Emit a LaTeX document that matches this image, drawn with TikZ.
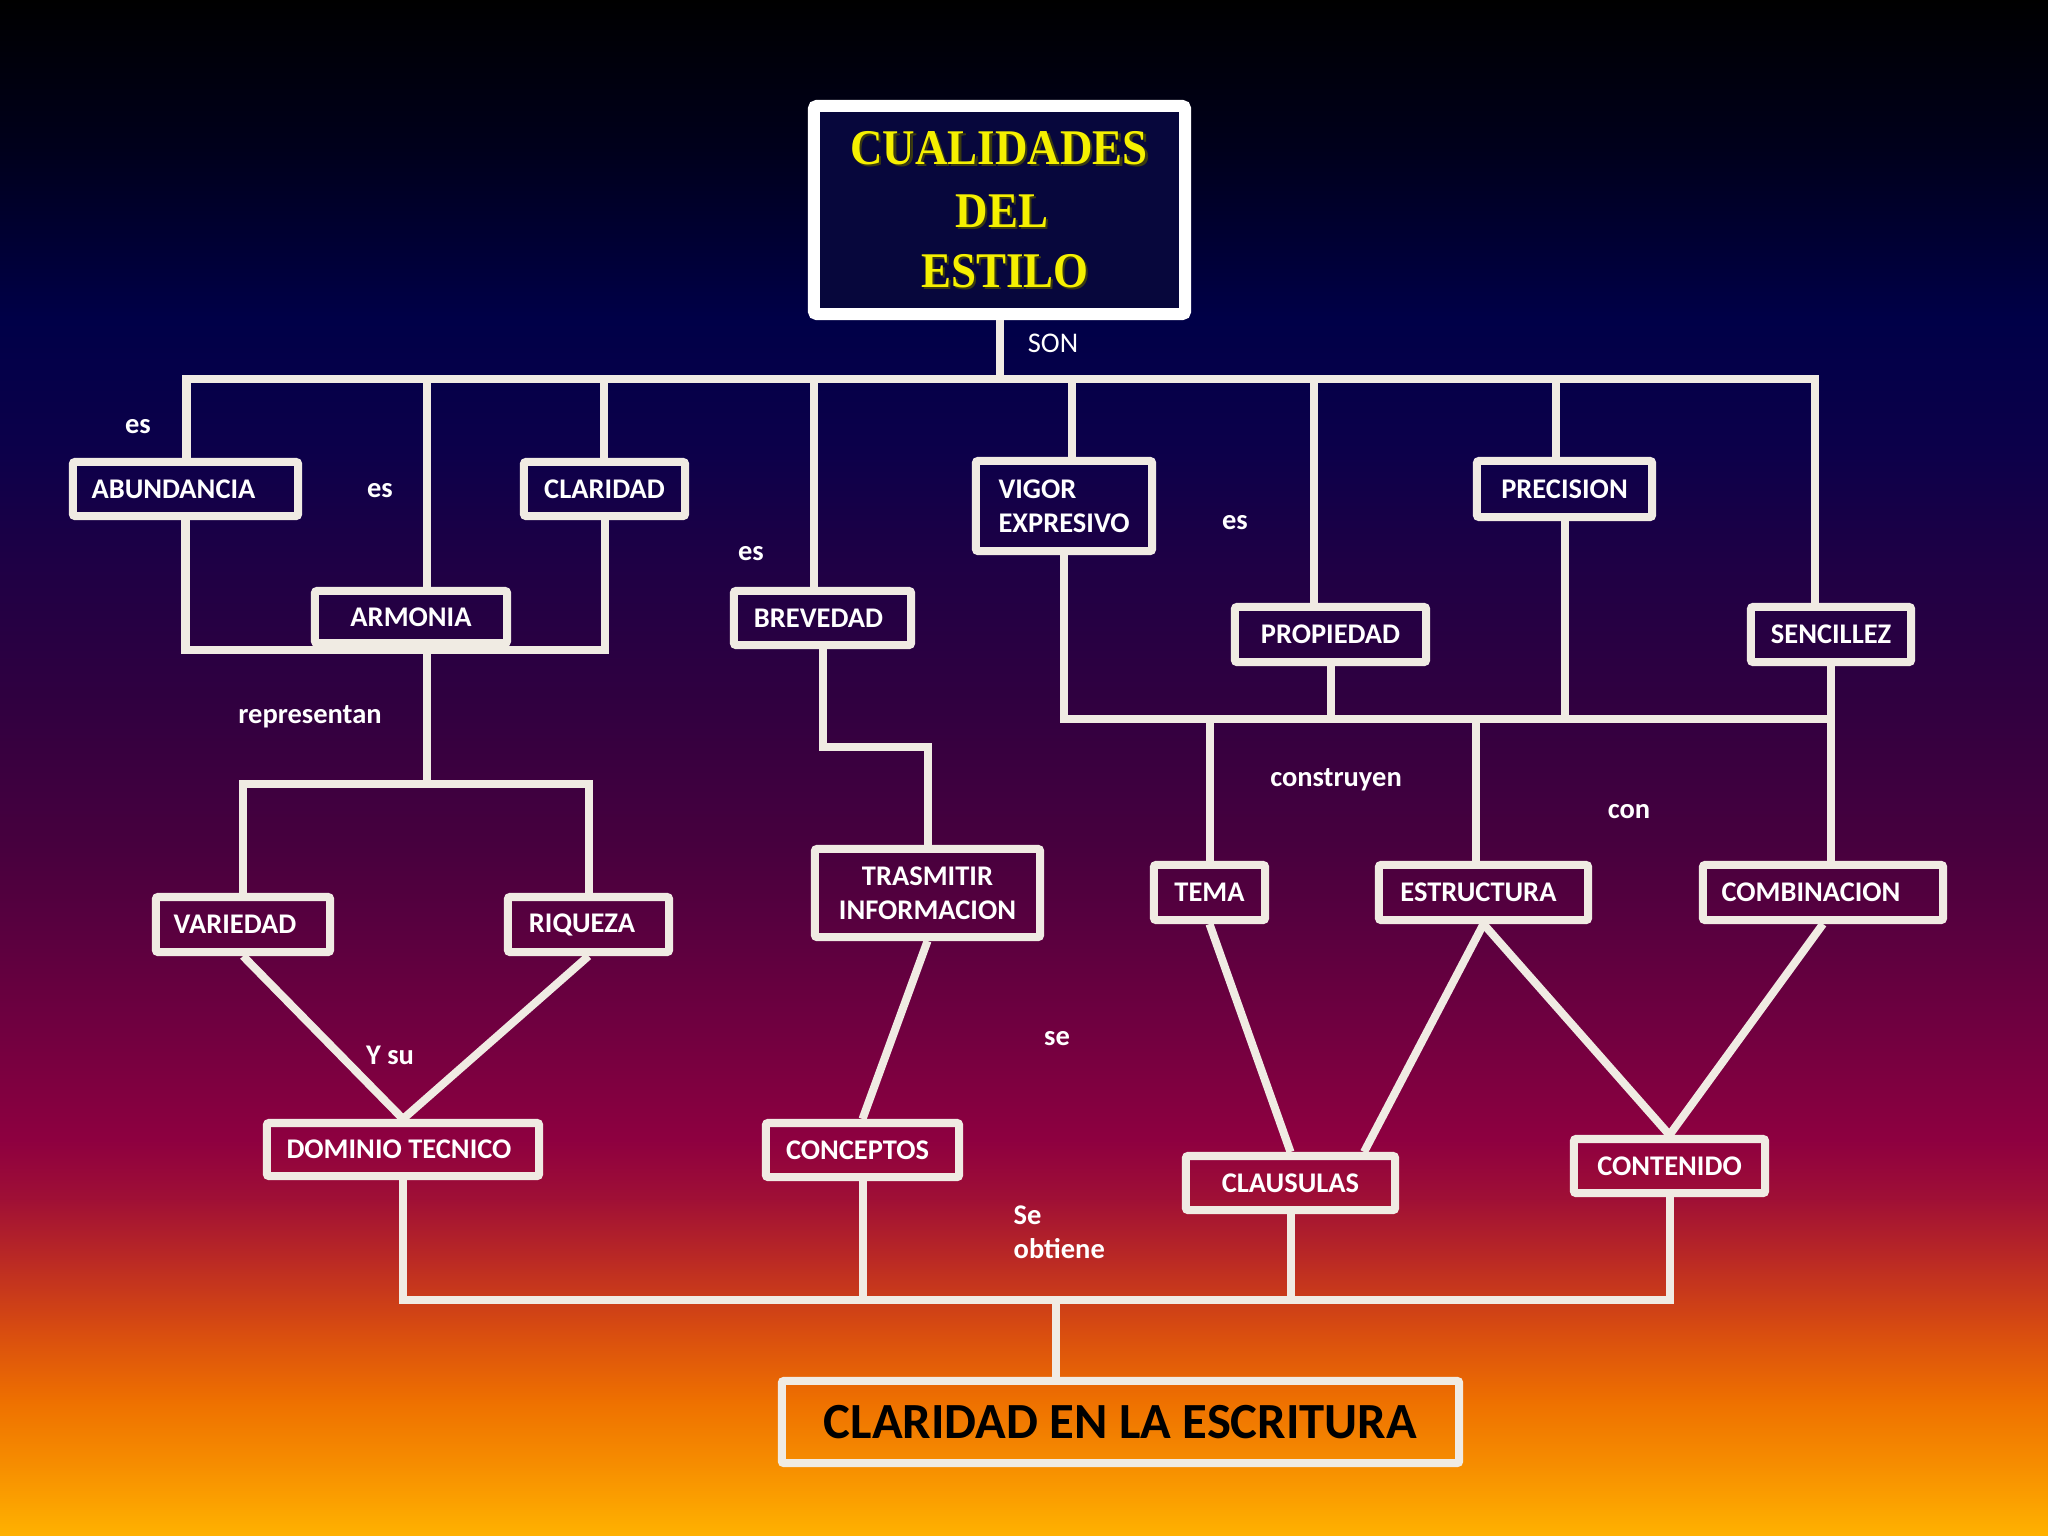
\documentclass[tikz,border=0pt]{standalone}
\usepackage{fontspec}
\setmainfont{Carlito}
\newfontfamily\titlefont[FakeStretch=0.9]{Liberation Serif}
\definecolor{linec}{HTML}{F0EBE3}
\definecolor{titlefill}{HTML}{07073C}
\definecolor{titletext}{HTML}{F5F000}
\definecolor{titleshadow}{HTML}{3A3A10}
\definecolor{g0}{HTML}{000000}
\definecolor{g1}{HTML}{00001C}
\definecolor{g2}{HTML}{000048}
\definecolor{g3}{HTML}{0C004A}
\definecolor{g4}{HTML}{1E0045}
\definecolor{g5}{HTML}{300040}
\definecolor{g6}{HTML}{48003E}
\definecolor{g7}{HTML}{5E003F}
\definecolor{g8}{HTML}{760040}
\definecolor{g9}{HTML}{8E0040}
\definecolor{g10}{HTML}{A01035}
\definecolor{g11}{HTML}{BB2A24}
\definecolor{g12}{HTML}{D84C10}
\definecolor{g13}{HTML}{EE7000}
\definecolor{g14}{HTML}{F79000}
\definecolor{g15}{HTML}{FFB200}
\begin{document}
\begin{tikzpicture}[x=0.01cm,y=-0.01cm,
  box/.style={draw=linec, line width=0.08cm, rounded corners=0.02cm, text=white,
    font=\bfseries\fontsize{8.1pt}{9.7pt}\selectfont, inner sep=0pt, align=center},
  conn/.style={draw=linec, line width=0.08cm, line join=miter},
  lab/.style={text=white, font=\bfseries\fontsize{8.1pt}{9.7pt}\selectfont, inner sep=0pt, align=left},
  sonlab/.style={text=white, font=\fontsize{8.1pt}{9.7pt}\selectfont, inner sep=0pt},
  ttl/.style={text=titletext, font=\titlefont\bfseries\fontsize{14.2pt}{17pt}\selectfont, inner sep=0pt},
  ttlsh/.style={text=titleshadow, font=\titlefont\bfseries\fontsize{14.2pt}{17pt}\selectfont, inner sep=0pt},
]
\useasboundingbox (0,0) rectangle (2048,1536);
% background gradient
\shade[top color=g0, bottom color=g1] (0,0) rectangle (2048,151);
\shade[top color=g1, bottom color=g2] (0,150) rectangle (2048,321);
\shade[top color=g2, bottom color=g3] (0,320) rectangle (2048,451);
\shade[top color=g3, bottom color=g4] (0,450) rectangle (2048,561);
\shade[top color=g4, bottom color=g5] (0,560) rectangle (2048,701);
\shade[top color=g5, bottom color=g6] (0,700) rectangle (2048,851);
\shade[top color=g6, bottom color=g7] (0,850) rectangle (2048,951);
\shade[top color=g7, bottom color=g8] (0,950) rectangle (2048,1051);
\shade[top color=g8, bottom color=g9] (0,1050) rectangle (2048,1141);
\shade[top color=g9, bottom color=g10] (0,1140) rectangle (2048,1201);
\shade[top color=g10, bottom color=g11] (0,1200) rectangle (2048,1261);
\shade[top color=g11, bottom color=g12] (0,1260) rectangle (2048,1331);
\shade[top color=g12, bottom color=g13] (0,1330) rectangle (2048,1401);
\shade[top color=g13, bottom color=g14] (0,1400) rectangle (2048,1471);
\shade[top color=g14, bottom color=g15] (0,1470) rectangle (2048,1536);

% title
\node[draw=white, line width=0.12cm, rounded corners=0.03cm, fill=titlefill,
  minimum width=3.71cm, minimum height=2.08cm, inner sep=0pt] (title) at (999.5,210) {};
\node[ttlsh] (t1s) at (1001.5,150.5) {CUALIDADES};
\node[ttlsh] (t2s) at (1004,213) {DEL};
\node[ttlsh] (t3s) at (1007,273.5) {ESTILO};
\node[ttl] (t1) at (999,148.5) {CUALIDADES};
\node[ttl] (t2) at (1002,211) {DEL};
\node[ttl] (t3) at (1005,271.5) {ESTILO};

% boxes
\node[box, minimum width=2.25cm, minimum height=0.54cm] (abund) at (185.5,489) {ABUNDANCIA\hspace*{0.24cm}};
\node[box, minimum width=1.61cm, minimum height=0.54cm] (clar) at (604.5,489) {CLARIDAD};
\node[box, minimum width=1.92cm, minimum height=0.52cm] (armo) at (411,617) {ARMONIA};
\node[box, minimum width=1.77cm, minimum height=0.54cm] (brev) at (822.5,618) {BREVEDAD\hspace*{0.08cm}};
\node[box, minimum width=1.76cm, minimum height=0.90cm, align=left] (vigor) at (1064,506) {VIGOR\\EXPRESIVO};
\node[box, minimum width=1.91cm, minimum height=0.55cm] (prop) at (1330.5,634.5) {PROPIEDAD};
\node[box, minimum width=1.75cm, minimum height=0.56cm] (prec) at (1564.5,489) {PRECISION};
\node[box, minimum width=1.60cm, minimum height=0.55cm] (senc) at (1831,634.5) {SENCILLEZ};
\node[box, minimum width=1.74cm, minimum height=0.55cm] (vari) at (243,924.5) {VARIEDAD\hspace*{0.16cm}};
\node[box, minimum width=1.61cm, minimum height=0.55cm] (riq) at (588.5,924.5) {RIQUEZA\hspace*{0.13cm}};
\node[box, minimum width=2.72cm, minimum height=0.53cm] (dom) at (403,1149.5) {DOMINIO TECNICO\hspace*{0.08cm}};
\node[box, minimum width=2.25cm, minimum height=0.88cm] (tras) at (927.5,893) {TRASMITIR\\INFORMACION};
\node[box, minimum width=1.93cm, minimum height=0.54cm] (conc) at (862.5,1150) {CONCEPTOS\hspace*{0.1cm}};
\node[box, minimum width=1.11cm, minimum height=0.55cm] (tema) at (1209.5,892.5) {TEMA};
\node[box, minimum width=2.09cm, minimum height=0.55cm] (estr) at (1483.5,892.5) {ESTRUCTURA\hspace*{0.1cm}};
\node[box, minimum width=2.40cm, minimum height=0.55cm] (comb) at (1823,892.5) {COMBINACION\hspace*{0.24cm}};
\node[box, minimum width=2.09cm, minimum height=0.54cm] (clau) at (1290.5,1183) {CLAUSULAS};
\node[box, minimum width=1.91cm, minimum height=0.54cm] (cont) at (1669.5,1166) {CONTENIDO};
\node[box, minimum width=6.77cm, minimum height=0.82cm, text=black,
  font=\bfseries\fontsize{14.4pt}{17pt}\selectfont] (final) at (1120.5,1422) {CLARIDAD EN LA ESCRITURA};

% coordinates
\coordinate (dA) at (186.5,379);
\coordinate (dS) at (1815,379);
\coordinate (dH) at (427,379);
\coordinate (dC) at (604,379);
\coordinate (dB) at (814,379);
\coordinate (dV) at (1072,379);
\coordinate (dP) at (1314,379);
\coordinate (dR) at (1556,379);
\coordinate (br) at (427,650);
\coordinate (rep) at (427,784);
\coordinate (j1) at (927,747);
\coordinate (bus2) at (1200,718.5);
\coordinate (dE) at (1476,718.5);
\coordinate (bb) at (1056,1300);

% top bus
\draw[conn] (abund.north -| dA) -- (dA) -- (dS) -- (senc.north -| dS);
\draw[conn] (title.south) -- (title.south |- dA);
\draw[conn] (dH) -- (dH |- armo.north);
\draw[conn] (dC) -- (dC |- clar.north);
\draw[conn] (dB) -- (dB |- brev.north);
\draw[conn] (dV) -- (dV |- vigor.north);
\draw[conn] (dP) -- (dP |- prop.north);
\draw[conn] (dR) -- (dR |- prec.north);

% left bracket
\draw[conn] (abund.south) -- (abund.south |- br) -- (clar.south |- br) -- (clar.south);
\draw[conn] (br) -- (rep);
\draw[conn] (vari.north) -- (vari.north |- rep) -- (riq.north |- rep) -- (riq.north);
\draw[conn] (vari.south) -- (dom.north);
\draw[conn] (riq.south) -- (dom.north);

% brevedad branch
\draw[conn] (brev.south) -- (brev.south |- j1) -- (tras.north |- j1) -- (tras.north);
\draw[conn] (tras.south) -- (conc.north);

% right branch
\draw[conn] (vigor.south) -- (vigor.south |- bus2) -- (senc.south |- bus2);
\draw[conn] (senc.south) -- (senc.south |- comb.north);
\draw[conn] (prop.south) -- (prop.south |- bus2);
\draw[conn] (prec.south) -- (prec.south |- bus2);
\draw[conn] (tema.north |- bus2) -- (tema.north);
\draw[conn] (dE) -- (dE |- estr.north);
\draw[conn] (tema.south) -- (clau.north);
\draw[conn] (estr.south) -- ([xshift=0.735cm]clau.north);
\draw[conn] (estr.south) -- (cont.north);
\draw[conn] (comb.south) -- (cont.north);

% bottom bus
\draw[conn] (dom.south) -- (dom.south |- bb) -- (cont.south |- bb) -- (cont.south);
\draw[conn] (conc.south) -- (conc.south |- bb);
\draw[conn] (clau.south) -- (clau.south |- bb);
\draw[conn] (bb) -- (bb |- final.north);

% labels
\node[sonlab] (l0) at (1053,343) {SON};
\node[lab] (l1) at (138,427) {es};
\node[lab] (l2) at (380,491) {es};
\node[lab] (l3) at (751,554) {es};
\node[lab] (l4) at (310,717) {representan};
\node[lab] (l5) at (390,1055) {Y su};
\node[lab] (l6) at (1057,1039) {se};
\node[lab, anchor=west] (l7) at (1013,1232) {Se\\obtiene};
\node[lab] (l8) at (1235,523) {es};
\node[lab] (l9) at (1336,780) {construyen};
\node[lab] (l10) at (1629,812) {con};
\end{tikzpicture}
\end{document}
